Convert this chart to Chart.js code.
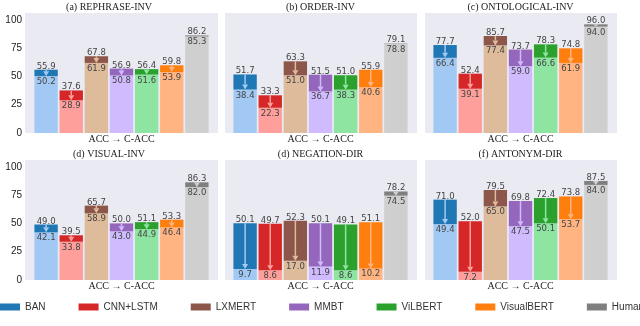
<!DOCTYPE html>
<html><head><meta charset="utf-8">
<script src="https://cdn.jsdelivr.net/npm/chart.js@4/dist/chart.umd.min.js"></script>
<style>
html,body{margin:0;padding:0;background:#fff;width:640px;height:326px;overflow:hidden;position:relative;}
canvas{position:absolute;}
</style></head><body>
<canvas id="pa"></canvas><canvas id="pb"></canvas><canvas id="pc"></canvas>
<canvas id="pd"></canvas><canvas id="pe"></canvas><canvas id="pf"></canvas>
<canvas id="legendCanvas"></canvas>
<script>
const models = ['BAN','CNN+LSTM','LXMERT','MMBT','ViLBERT','VisualBERT','Human'];
const darkColors = ['#1f77b4','#d62728','#8c564b','#9467bd','#2ca02c','#ff7f0e','#7f7f7f'];
const lightColors = ['#a1c9f4','#ff9f9b','#debb9b','#d0bbff','#8de5a1','#ffb482','#cfcfcf'];
const xAxisLabel = 'ACC \u2192 C-ACC';
const yTicks = [0,25,50,75,100];

const titleA = '(a) REPHRASE-INV';
const accA  = [55.9, 37.6, 67.8, 56.9, 56.4, 59.8, 86.2];
const caccA = [50.2, 28.9, 61.9, 50.8, 51.6, 53.9, 85.3];

const titleB = '(b) ORDER-INV';
const accB  = [51.7, 33.3, 63.3, 51.5, 51.0, 55.9, 79.1];
const caccB = [38.4, 22.3, 51.0, 36.7, 38.3, 40.6, 78.8];

const titleC = '(c) ONTOLOGICAL-INV';
const accC  = [77.7, 52.4, 85.7, 73.7, 78.3, 74.8, 96.0];
const caccC = [66.4, 39.1, 77.4, 59.0, 66.6, 61.9, 94.0];

const titleD = '(d) VISUAL-INV';
const accD  = [49.0, 39.5, 65.7, 50.0, 51.1, 53.3, 86.3];
const caccD = [42.1, 33.8, 58.9, 43.0, 44.9, 46.4, 82.0];

const titleE = '(d) NEGATION-DIR';
const accE  = [50.1, 49.7, 52.3, 50.1, 49.1, 51.1, 78.2];
const caccE = [9.7, 8.6, 17.0, 11.9, 8.6, 10.2, 74.5];

const titleF = '(f) ANTONYM-DIR';
const accF  = [71.0, 52.0, 79.5, 69.8, 72.4, 73.8, 87.5];
const caccF = [49.4, 7.2, 65.0, 47.5, 50.1, 53.7, 84.0];

const panels = [
  {id:'pa', title:titleA, acc:accA, cacc:caccA, left:0,   top:0,   width:218, yAxis:true,  vline:false},
  {id:'pb', title:titleB, acc:accB, cacc:caccB, left:224, top:0,   width:193, yAxis:false, vline:true},
  {id:'pc', title:titleC, acc:accC, cacc:caccC, left:424, top:0,   width:193, yAxis:false, vline:true},
  {id:'pd', title:titleD, acc:accD, cacc:caccD, left:0,   top:147, width:218, yAxis:true,  vline:false},
  {id:'pe', title:titleE, acc:accE, cacc:caccE, left:224, top:147, width:193, yAxis:false, vline:true},
  {id:'pf', title:titleF, acc:accF, cacc:caccF, left:424, top:147, width:193, yAxis:false, vline:true}
];
const panelHeight = 146;

const bgPlugin = {
  id:'bg',
  beforeDraw(chart){
    const a = chart.chartArea, ctx = chart.ctx;
    ctx.save(); ctx.fillStyle = '#eaeaf2';
    ctx.fillRect(a.left, a.top, a.right - a.left, a.bottom - a.top);
    ctx.restore();
  }
};

const labelPlugin = {
  id:'valueLabels',
  afterDatasetsDraw(chart){
    const p = chart.options.plugins.valueLabels;
    const xs = chart.scales.x, ys = chart.scales.y, ctx = chart.ctx;
    ctx.save();
    p.acc.forEach((a, i) => {
      const c = p.cacc[i];
      const x = xs.getPixelForValue(i);
      const yA = ys.getPixelForValue(a), yC = ys.getPixelForValue(c);
      const seg = yC - yA;
      if (seg > 2) {
        const head = Math.min(5, seg);
        ctx.strokeStyle = lightColors[i]; ctx.fillStyle = lightColors[i];
        ctx.lineWidth = 1.5;
        if (seg - head > 0.5) {
          ctx.beginPath(); ctx.moveTo(x, yA); ctx.lineTo(x, yC - head); ctx.stroke();
        }
        ctx.beginPath();
        ctx.moveTo(x - 3, yC - head); ctx.lineTo(x + 3, yC - head); ctx.lineTo(x, yC);
        ctx.closePath(); ctx.fill();
      }
      ctx.fillStyle = '#444';
      ctx.font = '8.5px "DejaVu Sans"';
      ctx.textAlign = 'center'; ctx.textBaseline = 'alphabetic';
      ctx.fillText(a.toFixed(1), x, yA - 1);
      ctx.fillText(c.toFixed(1), x, yC + 8);
    });
    ctx.restore();
  }
};

panels.forEach(p => {
  const cv = document.getElementById(p.id);
  cv.width = p.width; cv.height = panelHeight;
  cv.style.left = p.left + 'px'; cv.style.top = p.top + 'px';
  const yScale = {
    min:0, max:106, display:p.yAxis,
    afterBuildTicks: s => { s.ticks = yTicks.map(v => ({value:v})); },
    ticks:{font:{family:'Liberation Sans', size:10}, color:'#222', padding:3},
    grid:{display:false, drawTicks:false, tickLength:0}, border:{display:false}
  };
  if (p.yAxis) yScale.afterFit = s => { s.width = 25; };
  new Chart(cv, {
    type:'bar',
    data:{datasets:[
      {label:'C-ACC', data:p.cacc.map((v,i)=>({x:i, y:v})), backgroundColor:lightColors,
       grouped:false, barPercentage:0.93, categoryPercentage:1, order:2},
      {label:'ACC', data:p.acc.map((v,i)=>({x:i, y:[p.cacc[i], v]})), backgroundColor:darkColors,
       grouped:false, barPercentage:0.93, categoryPercentage:1, order:1}
    ]},
    options:{
      responsive:false, animation:false, events:[],
      layout:{padding:0},
      plugins:{
        legend:{display:false}, tooltip:{enabled:false},
        title:{display:true, text:p.title, font:{family:'Liberation Serif', size:10, weight:'normal'}, color:'#222', padding:{top:1, bottom:0}},
        valueLabels:{acc:p.acc, cacc:p.cacc}
      },
      scales:{
        x:{type:'linear', min:-0.84, max:6.84, offset:false,
           afterBuildTicks: s => { s.ticks = [{value:3}]; },
           ticks:{display:false},
           grid:{display:p.vline, color:'#ffffff', lineWidth:1, drawTicks:false},
           border:{display:false},
           title:{display:true, text:xAxisLabel, font:{family:'Liberation Serif', size:10}, color:'#222', padding:{top:0, bottom:1}},
           afterFit: s => { s.height = 13; }},
        y:yScale
      }
    },
    plugins:[bgPlugin, labelPlugin]
  });
});

// legend
const lc = document.getElementById('legendCanvas');
lc.width = 760; lc.height = 120;
lc.style.left = '-33px'; lc.style.top = '269px';
new Chart(lc, {
  type:'bar',
  data:{labels:['x'], datasets: models.map((m,i)=>({label:m, data:[0], backgroundColor:darkColors[i], borderWidth:0}))},
  options:{
    responsive:false, animation:false, events:[],
    layout:{padding:0},
    scales:{x:{display:false}, y:{display:false}},
    plugins:{
      tooltip:{enabled:false},
      legend:{display:true, position:'top', align:'start',
        labels:{boxWidth:20, boxHeight:7, padding:33, color:'#333', font:{family:'Liberation Sans', size:10}}}
    }
  }
});
</script>
</body></html>
